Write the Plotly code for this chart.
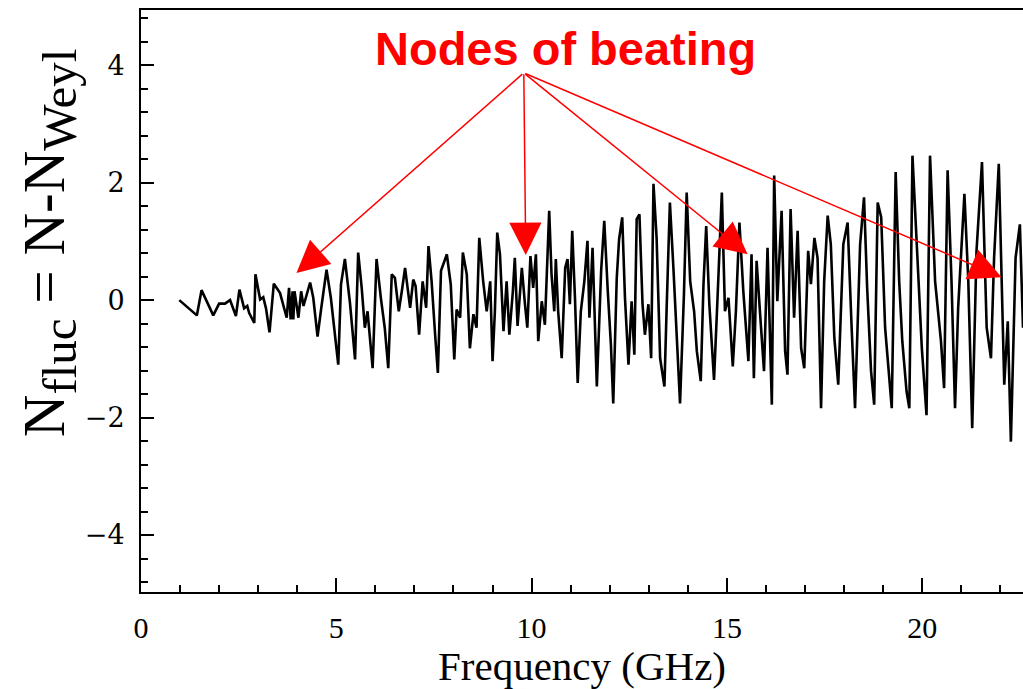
import plotly.graph_objects as go

# Frequency (GHz) and fluctuating part of the counting function
freq = [0.98, 1.43, 1.55, 1.85, 2.0, 2.15, 2.28, 2.43, 2.52, 2.64, 2.72, 2.77, 2.90, 2.93, 3.05, 3.13, 3.2, 3.29, 3.4, 3.56,
        3.73, 3.79, 3.83, 3.88, 3.9, 3.93,
        4.03, 4.1, 4.16, 4.33, 4.41, 4.52, 4.61, 4.75, 4.86, 5.05, 5.12, 5.22, 5.35, 5.48, 5.56, 5.65, 5.73, 5.8, 5.93, 6.03,
        6.14, 6.24, 6.33, 6.42, 6.5, 6.6, 6.69, 6.76, 6.89, 6.97, 7.03, 7.12,
        7.21, 7.3, 7.36, 7.44, 7.53, 7.6, 7.68, 7.83, 7.93, 8.02, 8.08, 8.17, 8.24, 8.34, 8.42, 8.51, 8.59, 8.66, 8.76, 8.85,
        8.94, 9.0, 9.06, 9.12, 9.19, 9.28, 9.36, 9.43, 9.52, 9.57, 9.64, 9.75, 9.83, 9.89, 9.97, 10.04, 10.11, 10.17, 10.26, 10.34,
        10.45, 10.51, 10.58, 10.62, 10.68, 10.77, 10.86, 10.92, 10.98, 11.04, 11.11, 11.18, 11.26, 11.35, 11.43, 11.48, 11.56,
        11.67, 11.78, 11.86, 11.95, 12.03, 12.09, 12.18, 12.24, 12.32, 12.39, 12.48, 12.56, 12.63, 12.69, 12.76, 12.84, 12.9,
        12.99, 13.06, 13.12, 13.2, 13.29, 13.4, 13.46, 13.54,
        13.63, 13.71, 13.8, 13.9, 13.97, 14.06, 14.16, 14.23, 14.33, 14.4, 14.47, 14.55, 14.67, 14.76, 14.87, 14.95, 15.04,
        15.15, 15.23, 15.32, 15.42, 15.55, 15.63, 15.69, 15.76, 15.85, 15.95, 16.04, 16.15, 16.21, 16.29, 16.4, 16.49, 16.55,
        16.63, 16.72,
        16.81, 16.9, 16.98, 17.08, 17.15, 17.24, 17.32, 17.41, 17.49, 17.58, 17.66, 17.75, 17.85, 17.98, 18.09, 18.19, 18.28,
        18.41, 18.51, 18.59, 18.69, 18.77, 18.86, 18.95, 19.05, 19.22, 19.32, 19.41, 19.49, 19.6,
        19.67, 19.75, 19.86, 19.99, 20.11, 20.2, 20.33, 20.48, 20.56, 20.65, 20.75, 20.84, 20.92, 21.08, 21.18, 21.28, 21.39,
        21.53, 21.65, 21.76, 21.84, 21.96, 22.1, 22.19, 22.27, 22.39, 22.5, 22.58]

n_fluc = [0.0, -0.26, 0.17, -0.26, -0.06, -0.06, 0.0, -0.27, 0.18, -0.14, -0.10, -0.22, -0.39, 0.44, 0.01, 0.05, -0.14, -0.55, 0.28, 0.12,
          -0.30, 0.21, -0.33, 0.15, -0.33, 0.15,
          -0.30, 0.15, -0.10, 0.30, 0.04, -0.62, -0.16, 0.52, 0.04, -1.10, 0.27, 0.70, -0.05, -1.01, 0.81, 0.21, -0.47, -0.19, -1.16, 0.70,
          0.04, -0.47, -1.16, 0.44, 0.38, -0.19, 0.21, 0.55, -0.13, 0.35, 0.24, -0.59,
          0.32, -0.13, 0.92, 0.32, -0.59, -1.24, 0.50, 0.78, 0.27, -1.01, -0.16, -0.30, 0.81, 0.44, -0.82, -0.24, -0.47, 1.06, 0.32, -0.19,
          0.32, -1.04, -0.19, 1.15, 0.78, -0.53, 0.32, -0.59, 0.15, 0.72, -0.44, 0.55, -0.07, -0.47, 0.75, 0.21, 0.78, -0.70, -0.02, -0.42,
          1.52, 0.44, -0.19, 0.70, -0.19, -0.99, 0.55, 0.70, -0.07, 1.18, 0.04, -1.41, -0.19, 0.32, 1.01, -0.30, 0.89,
          -1.47, 0.50, 1.35, 0.15, -0.76, -1.76, 0.38, 1.04, 1.41, 0.04, -1.10, -0.02, -0.93, 1.38, 1.46, -0.07, -0.59,
          -0.07, -0.99, 1.98, 1.06, -0.99, -1.47, -0.07, 1.66,
          0.55, -0.53, -1.76, 0.10, 1.83, 0.32, -0.19, -0.87, -1.38, 0.27, 1.26, -0.07, -1.36, 0.04, 1.83, -0.19, 0.04,
          -1.13, -0.19, 1.32, 0.15, -1.04, 0.78, -1.33, 0.67, -0.24, -1.21, 0.89, -1.78, 2.12, -0.02, 1.52, -0.87, -1.27,
          1.55, -0.30,
          1.18, -0.82, -1.16, 0.84, 0.27, 1.06, 0.72, -1.84, 0.32, 1.44, 0.95, -0.64, -1.44, 0.95, 1.32, -0.42, -1.84,
          0.95, 1.75, 0.21, -1.21, -1.78, 1.66, 1.41, -0.47, -1.84, 2.18, 0.32, -0.70, -1.56,
          -1.84, 2.46, 0.84, -0.82, -1.96, 2.46, 0.32, -0.70, -1.50, 2.21, 0.32, -1.84, -0.13, 1.81, 0.32, -2.18, 0.84,
          2.35, -0.47, -0.99, 0.72, 2.32, -1.44, -0.36, -2.41, 0.72, 1.29, -0.47]

# annotation: label and arrow geometry (data coordinates)
label_text = "Nodes of beating"
label_pos = (10.87, 4.29)
arrow_origin = (9.80, 3.87)
node_x = [3.98, 9.85, 15.53, 22.03]
node_y = [0.46, 0.77, 0.78, 0.39]

x_title = "Frequency (GHz)"
y_title = ('N<sub><span style="font-size:49px">fluc</span></sub> = N-N'
           '<sub><span style="font-size:49px">Weyl</span></sub>')

fig = go.Figure()
fig.add_trace(go.Scatter(x=freq, y=n_fluc, mode="lines",
                         line=dict(color="black", width=2.6), showlegend=False))

annotations = [dict(x=label_pos[0], y=label_pos[1], xref="x", yref="y",
                    text="<b>" + label_text + "</b>", showarrow=False,
                    font=dict(family="Liberation Sans", size=47, color="#ff0000"))]
for nx, ny in zip(node_x, node_y):
    annotations.append(dict(x=nx, y=ny, xref="x", yref="y",
                            ax=arrow_origin[0], ay=arrow_origin[1], axref="x", ayref="y",
                            text="", showarrow=True, arrowhead=2, arrowsize=4.3,
                            arrowwidth=1.5, arrowcolor="#ff0000"))
# y-axis title (rotated), placed as in the reference
annotations.append(dict(x=-0.105, y=0.60, xref="paper", yref="paper",
                        xanchor="center", yanchor="middle", textangle=-90,
                        text=y_title, showarrow=False,
                        font=dict(family="Liberation Serif", size=59, color="black")))

fig.update_layout(
    width=1023, height=689,
    margin=dict(l=141, r=0, t=10, b=97, autoexpand=False),
    paper_bgcolor="white", plot_bgcolor="white",
    annotations=annotations,
    xaxis=dict(range=[0, 22.58], showline=True, linecolor="black", linewidth=2, mirror=True,
               ticks="inside", ticklen=14, tickwidth=1.5, tickcolor="black",
               tick0=0, dtick=5, showgrid=False, zeroline=False, automargin=False,
               minor=dict(dtick=1, ticks="inside", ticklen=7, tickwidth=1.5, tickcolor="black", showgrid=False),
               tickfont=dict(family="Liberation Serif", size=30, color="black"),
               ticklabelstandoff=8,
               title=dict(text=x_title, standoff=6,
                          font=dict(family="Liberation Serif", size=41, color="black"))),
    yaxis=dict(range=[-4.97, 4.94], showline=True, linecolor="black", linewidth=2, mirror=False,
               ticks="inside", ticklen=13, tickwidth=1.5, tickcolor="black",
               tick0=0, dtick=2, showgrid=False, zeroline=False, automargin=False,
               minor=dict(dtick=0.4, ticks="inside", ticklen=7, tickwidth=1.5, tickcolor="black", showgrid=False),
               tickfont=dict(family="DejaVu Serif", size=27, color="black"),
               ticklabelstandoff=9),
)

fig.write_html("out.html")
